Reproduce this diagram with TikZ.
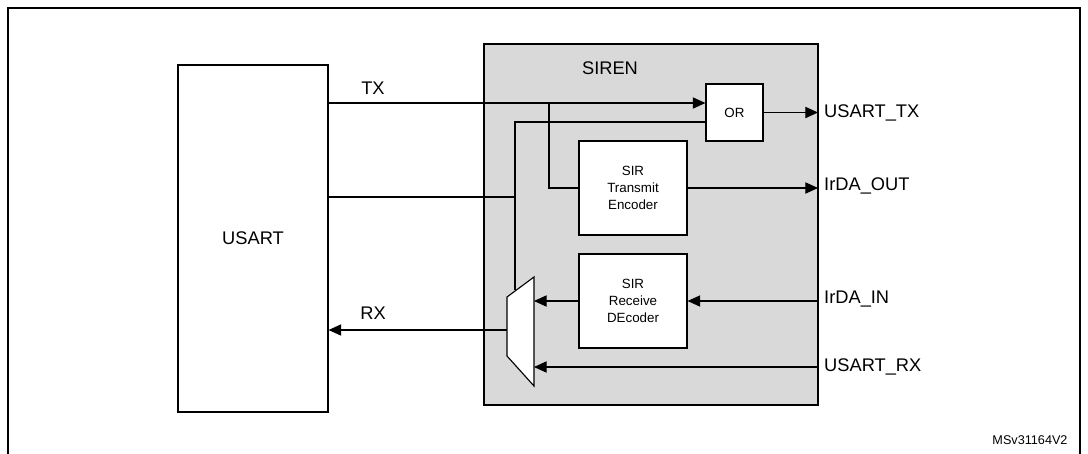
\documentclass[tikz,border=0pt]{standalone}
\usepackage{fontspec}
\setmainfont{Liberation Sans}
\usetikzlibrary{arrows.meta}
\begin{document}
\begin{tikzpicture}[x=0.025cm,y=-0.025cm, line width=0.8pt,
  blk/.style={shape=rectangle, draw, fill=white, align=center, inner sep=0pt},
  lbl/.style={font=\fontsize{13}{15}\selectfont},
  sig/.style={-{Triangle[length=9pt,width=8pt]}}]
\useasboundingbox (0,0) rectangle (1088,454);
\draw (8,454) -- (8,8) -- (1080,8) -- (1080,454);

\node[blk, minimum width=3.75cm, minimum height=8.675cm, lbl] (usart) at (253,238.5) {USART};
\node[draw, fill=black!15, minimum width=8.35cm, minimum height=9.025cm, inner sep=0pt] (siren) at (651,224.5) {};
\node[lbl] (sirent) at (610,68) {SIREN};
\node[blk, minimum width=1.425cm, minimum height=1.425cm, font=\fontsize{9.5}{11}\selectfont] (or) at (734.5,112.5) {OR};
\node[blk, minimum width=2.7cm, minimum height=2.35cm, font=\fontsize{9.5}{12}\selectfont] (enc) at (633,188) {SIR\\Transmit\\Encoder};
\node[blk, minimum width=2.7cm, minimum height=2.35cm, font=\fontsize{9.5}{12}\selectfont] (dec) at (633,301) {SIR\\Receive\\DEcoder};
\draw[fill=white] (507,297) -- (534,277) -- (534,386) -- (507,356) -- cycle;

\node[lbl, anchor=west, inner sep=4pt] (utx) at (818,113) {USART\_TX};
\node[lbl, anchor=west, inner sep=4pt] (iout) at (818,186) {IrDA\_OUT};
\node[lbl, anchor=west, inner sep=4pt] (iin) at (818,299) {IrDA\_IN};
\node[lbl, anchor=west, inner sep=4pt] (urx) at (818,367) {USART\_RX};
\node[lbl] (tx) at (373,88) {TX};
\node[lbl] (rx) at (373,313) {RX};
\node[font=\fontsize{9}{11}\selectfont] (ver) at (1030,440) {MSv31164V2};

\draw[sig] (usart.east |- 0,103) -- (or.west |- 0,103);
\draw (549,103) |- (enc.west);
\draw (or.west |- 0,122) -| (515,290);
\draw (usart.east |- 0,197) -- (515,197);
\draw[sig] (507,330) -- (usart.east |- 0,330);
\draw[sig] (dec.west) -- (dec.west -| 534,0);
\draw[sig] (or.east) -- (or.east -| utx.west);
\draw[sig] (enc.east) -- (enc.east -| iout.west);
\draw[sig] (iin.west |- dec.east) -- (dec.east);
\draw[sig] (urx.west) -- (534,0 |- urx.west);
\end{tikzpicture}
\end{document}
